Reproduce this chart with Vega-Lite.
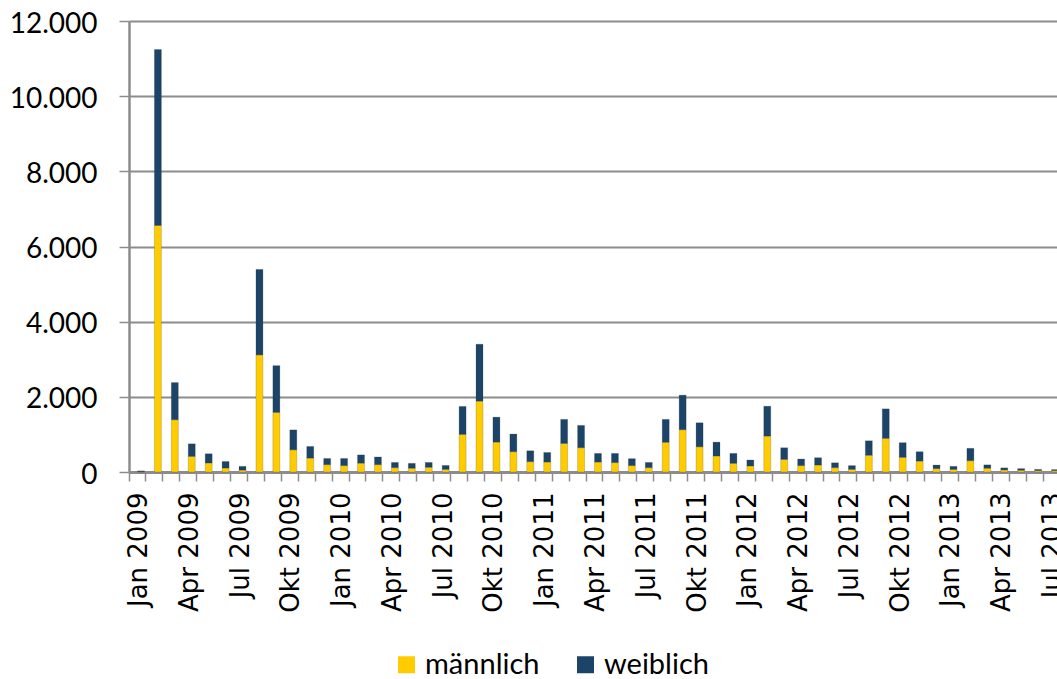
{
  "$schema": "https://vega.github.io/schema/vega-lite/v6.json",
  "autosize": {"type": "none"},
  "padding": {"left": 129, "top": 21, "right": 0, "bottom": 207},
  "width": 928,
  "height": 451,
  "background": "white",
  "data": {
    "values": [
      {"Monat": "Jan 2009", "männlich": 10, "weiblich": 20},
      {"Monat": "Feb 2009", "männlich": 6560, "weiblich": 4680},
      {"Monat": "Mär 2009", "männlich": 1390, "weiblich": 990},
      {"Monat": "Apr 2009", "männlich": 415, "weiblich": 335},
      {"Monat": "Mai 2009", "männlich": 240, "weiblich": 245},
      {"Monat": "Jun 2009", "männlich": 105, "weiblich": 175},
      {"Monat": "Jul 2009", "männlich": 50, "weiblich": 100},
      {"Monat": "Aug 2009", "männlich": 3115, "weiblich": 2275},
      {"Monat": "Sep 2009", "männlich": 1585, "weiblich": 1245},
      {"Monat": "Okt 2009", "männlich": 590, "weiblich": 530},
      {"Monat": "Nov 2009", "männlich": 370, "weiblich": 310},
      {"Monat": "Dez 2009", "männlich": 195, "weiblich": 165},
      {"Monat": "Jan 2010", "männlich": 170, "weiblich": 190},
      {"Monat": "Feb 2010", "männlich": 235, "weiblich": 220},
      {"Monat": "Mär 2010", "männlich": 195, "weiblich": 205},
      {"Monat": "Apr 2010", "männlich": 115, "weiblich": 140},
      {"Monat": "Mai 2010", "männlich": 100, "weiblich": 130},
      {"Monat": "Jun 2010", "männlich": 125, "weiblich": 130},
      {"Monat": "Jul 2010", "männlich": 70, "weiblich": 105},
      {"Monat": "Aug 2010", "männlich": 1000, "weiblich": 745},
      {"Monat": "Sep 2010", "männlich": 1885, "weiblich": 1515},
      {"Monat": "Okt 2010", "männlich": 795, "weiblich": 665},
      {"Monat": "Nov 2010", "männlich": 540, "weiblich": 470},
      {"Monat": "Dez 2010", "männlich": 275, "weiblich": 290},
      {"Monat": "Jan 2011", "männlich": 265, "weiblich": 255},
      {"Monat": "Feb 2011", "männlich": 760, "weiblich": 640},
      {"Monat": "Mär 2011", "männlich": 645, "weiblich": 595},
      {"Monat": "Apr 2011", "männlich": 265, "weiblich": 230},
      {"Monat": "Mai 2011", "männlich": 250, "weiblich": 245},
      {"Monat": "Jun 2011", "männlich": 170, "weiblich": 185},
      {"Monat": "Jul 2011", "männlich": 115, "weiblich": 140},
      {"Monat": "Aug 2011", "männlich": 790, "weiblich": 610},
      {"Monat": "Sep 2011", "männlich": 1125, "weiblich": 920},
      {"Monat": "Okt 2011", "männlich": 670, "weiblich": 640},
      {"Monat": "Nov 2011", "männlich": 425, "weiblich": 370},
      {"Monat": "Dez 2011", "männlich": 230, "weiblich": 265},
      {"Monat": "Jan 2012", "männlich": 160, "weiblich": 160},
      {"Monat": "Feb 2012", "männlich": 955, "weiblich": 795},
      {"Monat": "Mär 2012", "männlich": 335, "weiblich": 310},
      {"Monat": "Apr 2012", "männlich": 170, "weiblich": 175},
      {"Monat": "Mai 2012", "männlich": 185, "weiblich": 195},
      {"Monat": "Jun 2012", "männlich": 115, "weiblich": 130},
      {"Monat": "Jul 2012", "männlich": 70, "weiblich": 100},
      {"Monat": "Aug 2012", "männlich": 445, "weiblich": 385},
      {"Monat": "Sep 2012", "männlich": 895, "weiblich": 785},
      {"Monat": "Okt 2012", "männlich": 390, "weiblich": 390},
      {"Monat": "Nov 2012", "männlich": 290, "weiblich": 250},
      {"Monat": "Dez 2012", "männlich": 90, "weiblich": 95},
      {"Monat": "Jan 2013", "männlich": 70, "weiblich": 80},
      {"Monat": "Feb 2013", "männlich": 300, "weiblich": 330},
      {"Monat": "Mär 2013", "männlich": 100, "weiblich": 90},
      {"Monat": "Apr 2013", "männlich": 55, "weiblich": 55},
      {"Monat": "Mai 2013", "männlich": 45, "weiblich": 45},
      {"Monat": "Jun 2013", "männlich": 35, "weiblich": 35},
      {"Monat": "Jul 2013", "männlich": 35, "weiblich": 30}
    ]
  },
  "transform": [
    {"fold": ["männlich", "weiblich"], "as": ["Geschlecht", "Anzahl"]}
  ],
  "mark": {
    "type": "bar",
    "width": 7,
    "xOffset": 3.5,
    "stroke": "#333333",
    "strokeWidth": 0.6,
    "strokeOpacity": 0.35
  },
  "encoding": {
    "x": {
      "field": "Monat",
      "type": "nominal",
      "sort": null,
      "scale": {"range": [0, 931], "paddingInner": 0, "paddingOuter": 0},
      "axis": {
        "title": null,
        "bandPosition": 0,
        "labelExpr": "(slice(datum.value, 0, 3) == 'Jan' || slice(datum.value, 0, 3) == 'Apr' || slice(datum.value, 0, 3) == 'Jul' || slice(datum.value, 0, 3) == 'Okt') ? datum.value : ''",
        "labelAngle": -90,
        "labelAlign": "right",
        "labelBaseline": "middle",
        "labelFont": "DejaVu Sans",
        "labelFontSize": 26,
        "labelColor": "#000000",
        "labelPadding": 11,
        "labelOffset": 1.5,
        "labelOverlap": false,
        "labelBound": false,
        "labelFlush": false,
        "tickSize": 9,
        "tickColor": "#8c8c8c",
        "tickWidth": 1.5,
        "domainColor": "#8c8c8c",
        "domainWidth": 3,
        "grid": false
      }
    },
    "y": {
      "field": "Anzahl",
      "type": "quantitative",
      "stack": "zero",
      "scale": {"domain": [0, 12000], "nice": false},
      "axis": {
        "title": null,
        "values": [0, 2000, 4000, 6000, 8000, 10000, 12000],
        "labelExpr": "replace(format(datum.value, ','), ',', '.')",
        "labelFont": "Lato",
        "labelFontSize": 28,
        "labelColor": "#000000",
        "labelPadding": 22,
        "labelOffset": 3,
        "tickSize": 10,
        "tickColor": "#8c8c8c",
        "tickWidth": 1.5,
        "domainColor": "#8c8c8c",
        "domainWidth": 2.5,
        "grid": true,
        "gridColor": "#8c8c8c",
        "gridWidth": 2
      }
    },
    "color": {
      "field": "Geschlecht",
      "type": "nominal",
      "scale": {"domain": ["männlich", "weiblich"], "range": ["#FFCC00", "#1B4468"]},
      "legend": {
        "title": null,
        "orient": "none",
        "direction": "horizontal",
        "legendX": 263,
        "legendY": 629,
        "padding": 0,
        "symbolType": "square",
        "symbolSize": 289,
        "symbolStrokeWidth": 0,
        "labelFont": "Lato",
        "labelFontSize": 29,
        "labelColor": "#000000",
        "labelOffset": 4,
        "columnPadding": 31
      }
    },
    "order": {"field": "Geschlecht", "sort": "ascending"}
  },
  "config": {
    "view": {"stroke": null}
  }
}
